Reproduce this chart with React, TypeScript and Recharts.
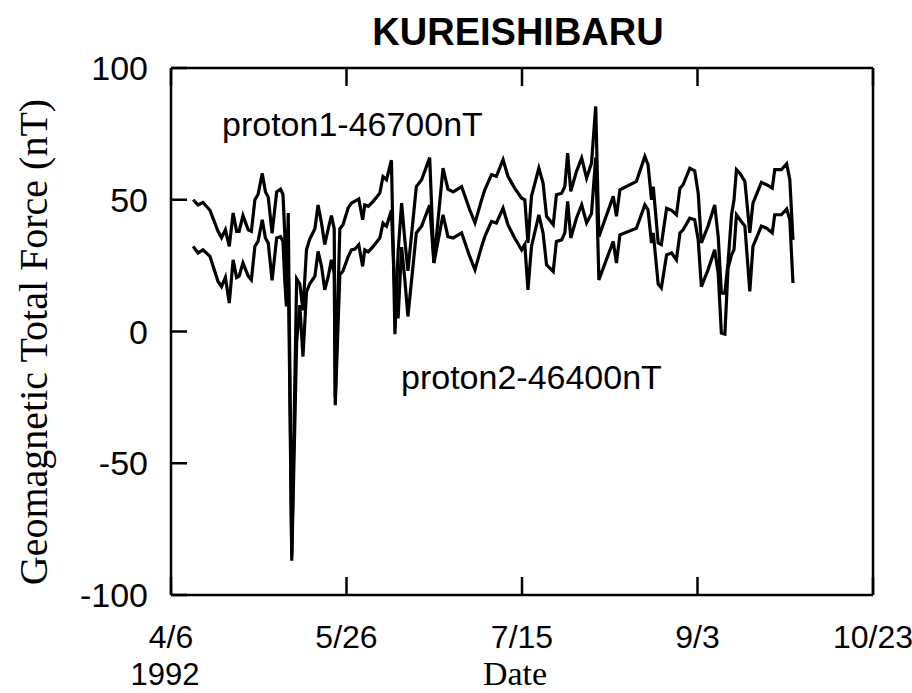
import React from 'react';
import { LineChart, Line, XAxis, YAxis } from 'recharts';

// days since 4/6/1992
const days = [
  6.3, 7.7, 9.1, 11.1, 13.4, 14.4, 15.5, 16.6, 17.7, 18.7,
  19.4, 20.5, 22.0, 22.9, 23.9, 24.8, 26.0, 26.9, 27.7, 28.8,
  30.1, 31.2, 31.9, 32.4, 32.9, 33.4, 34.4, 35.8, 36.7, 37.6,
  38.6, 39.5, 41.0, 41.9, 42.9, 43.8, 44.8, 45.7, 46.5, 46.8,
  48.1, 49.0, 50.5, 51.4, 52.4, 53.5, 54.6, 55.2, 56.2, 57.6,
  59.5, 60.4, 61.4, 62.8, 63.8, 64.7, 65.7, 66.6, 67.5, 69.9,
  71.4, 73.7, 74.9, 77.5, 78.9, 80.4, 82.8, 85.1, 86.6, 88.5,
  89.4, 91.3, 92.7, 94.6, 96.0, 97.9, 99.9, 100.8, 101.7, 102.7,
  104.8, 106.0, 107.0, 108.9, 109.8, 111.3, 112.2, 113.0, 113.9, 115.5,
  117.0, 118.4, 119.8, 121.0, 121.9, 126.0, 126.9, 127.9, 132.6, 135.0,
  135.9, 136.9, 137.4, 138.8, 139.7, 141.2, 142.6, 144.0, 145.0, 145.9,
  147.8, 149.2, 150.2, 151.1, 153.0, 154.9, 155.9, 156.8, 157.8, 158.7,
  159.7, 160.4, 161.1, 162.1, 163.5, 164.9, 165.8, 168.2, 169.7, 171.3,
  172.0, 173.9, 175.4, 176.3, 177.2,
];

// proton1 - 46700 nT
const proton1 = [
  50, 48, 49, 46, 38, 35.6, 38.6, 32.3, 45, 38,
  38, 44, 38.6, 38, 50, 52, 60, 53, 51, 37.3,
  53, 54, 52, 37.5, 11, 45, -85, 20, 18, 8,
  31, 35, 39, 48, 41, 33, 39, 44, 39, -25,
  39, 40.5, 47, 48.7, 49.5, 50.3, 42.4, 48, 47.5, 49.4,
  52.5, 58.8, 57.6, 65, -1, 30, 48.7, 35, 23, 55,
  57.6, 66, 26, 62, 54, 53, 55, 46.2, 41.2, 50,
  53.8, 59.5, 58.9, 65.2, 58.9, 54.4, 50.6, 50, 33.6, 51.3,
  62, 56.3, 43.7, 40.5, 51.9, 52.5, 55, 67.7, 53.2, 60.7,
  65.8, 58.2, 63.9, 85.4, 36, 51.3, 43.7, 53.8, 57, 66.4,
  63.3, 50, 55, 33.6, 33, 46.8, 46, 44.3, 54.4, 55.7,
  62, 61, 52.5, 33.6, 40, 48, 36, 14.6, 14.6, 26,
  44.3, 50, 61.4, 60, 57, 37.4, 48.7, 56.6, 55.7, 54.4,
  61.4, 61.4, 63.7, 57.6, 34.8,
];

// proton2 - 46400 nT
const proton2 = [
  32.3, 29.8, 31, 28.5, 19, 17, 20.5, 10.8, 27.2, 20.5,
  21, 26, 21, 19.6, 32.3, 34.2, 42.4, 35.5, 33.6, 19.4,
  35.5, 36, 34.2, 19.6, 9.5, 28, -87, -4, 10, -9.5,
  15, 18, 21, 30.4, 24.7, 15.8, 20.9, 27.2, 22, -28,
  21.5, 23, 28.5, 31, 31.3, 32.9, 24.7, 31, 30.2, 32.3,
  35.5, 41.2, 40, 46, 14, 5, 32, 20, 5.7, 37.4,
  40, 48, 26, 44.3, 36, 35.5, 37.4, 28.5, 23.4, 32.3,
  36, 41.8, 41.2, 46.8, 40.5, 35.5, 31, 33, 15.8, 32.3,
  44.3, 37.4, 25.3, 22.8, 34.2, 34.8, 37.4, 49.4, 35.5, 43,
  48.1, 41.2, 44.8, 66, 19.6, 34.2, 26, 36.7, 39.2, 48.1,
  46.2, 33.6, 37.4, 18, 16.5, 29.1, 29.8, 27.2, 37.4, 38.6,
  43, 42.4, 34.8, 17, 23.4, 31, 22, -0.6, -1, 24,
  29.1, 31, 44.3, 42.4, 40, 15.2, 32.3, 40, 39.2, 37.4,
  44.3, 44.3, 46.5, 42.4, 18.4,
];

const xTicks = [0, 50, 100, 150, 200];
const xTickLabels = ['4/6', '5/26', '7/15', '9/3', '10/23'];
const yTicks = [-100, -50, 0, 50, 100];

const SANS = '"Liberation Sans", Arial, Helvetica, sans-serif';
const SERIF = '"Liberation Serif", "Times New Roman", serif';

const rows = days.map((day, i) => ({ day, p1: proton1[i], p2: proton2[i] }));

const yTickStyle = { fill: '#000', fontSize: 34, fontFamily: SANS };
const xTickStyle = { fill: '#000', fontSize: 32, fontFamily: SANS };
const axisStroke = { stroke: '#000', strokeWidth: 2.5 };

export default function App() {
  return (
    <div style={{ position: 'absolute', left: 0, top: 0, width: 912, height: 693, background: '#fff' }}>
      <LineChart
        width={912}
        height={693}
        data={rows}
        margin={{ top: 58, right: 29, bottom: 38, left: 111 }}
      >
        <XAxis
          dataKey="day"
          type="number"
          domain={[0, 200]}
          ticks={xTicks}
          tickFormatter={(v: number) => xTickLabels[xTicks.indexOf(v)] ?? ''}
          height={60}
          tickSize={-18}
          tickMargin={48}
          tick={xTickStyle}
          axisLine={axisStroke}
          tickLine={axisStroke}
          interval={0}
          allowDataOverflow
        />
        <XAxis
          xAxisId="top"
          orientation="top"
          dataKey="day"
          type="number"
          domain={[0, 200]}
          ticks={xTicks}
          tickFormatter={() => ''}
          height={10}
          tickSize={-18}
          axisLine={axisStroke}
          tickLine={axisStroke}
          interval={0}
        />
        <YAxis
          type="number"
          domain={[-100, 100]}
          ticks={yTicks}
          width={60}
          tickSize={-16}
          tickMargin={39}
          tick={yTickStyle}
          axisLine={axisStroke}
          tickLine={axisStroke}
          interval={0}
          allowDataOverflow
        />
        <YAxis
          yAxisId="right"
          orientation="right"
          type="number"
          domain={[-100, 100]}
          ticks={yTicks}
          tickFormatter={() => ''}
          width={10}
          tickSize={-16}
          axisLine={axisStroke}
          tickLine={axisStroke}
          interval={0}
        />
        <Line
          dataKey="p1"
          type="linear"
          stroke="#000"
          strokeWidth={3.2}
          dot={false}
          isAnimationActive={false}
        />
        <Line
          dataKey="p2"
          type="linear"
          stroke="#000"
          strokeWidth={3.2}
          dot={false}
          isAnimationActive={false}
        />
      </LineChart>

      {/* titles and annotations */}
      <svg
        width={912}
        height={693}
        style={{ position: 'absolute', left: 0, top: 0, pointerEvents: 'none' }}
      >
        <text x={518} y={45} textAnchor="middle" fontFamily={SANS} fontWeight="bold" fontSize={38}>
          KUREISHIBARU
        </text>
        <text x={222} y={136} fontFamily={SANS} fontSize={34}>
          proton1-46700nT
        </text>
        <text x={401} y={389} fontFamily={SANS} fontSize={34}>
          proton2-46400nT
        </text>
        <text x={165} y={685} textAnchor="middle" fontFamily={SANS} fontSize={31}>
          1992
        </text>
        <text x={515} y={685} textAnchor="middle" fontFamily={SERIF} fontSize={34}>
          Date
        </text>
        <text
          transform="translate(47,342) rotate(-90)"
          textAnchor="middle"
          fontFamily={SERIF}
          fontSize={40}
        >
          Geomagnetic Total Force (nT)
        </text>
      </svg>
    </div>
  );
}
